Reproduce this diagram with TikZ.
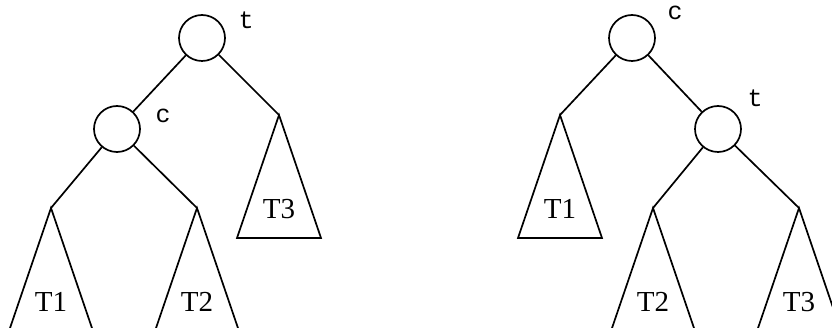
\documentclass[tikz,border=0pt]{standalone}
\usepackage{fontspec}
\setmainfont{Liberation Serif}
\setmonofont{Liberation Mono}
\usetikzlibrary{calc}
\begin{document}
\begin{tikzpicture}[x=1pt,y=-1pt,line width=1.7pt,
  vtx/.style={circle,draw,minimum size=46pt,inner sep=0pt},
  tlab/.style={anchor=base,font=\fontsize{29}{29}\selectfont,inner sep=0pt},
  vlab/.style={anchor=base,font=\fontsize{25}{25}\selectfont\ttfamily,inner sep=0pt},
  subtree/.style={line join=miter}]
\useasboundingbox (0,0) rectangle (832,328);
\clip (0,0) rectangle (832,328);
\newcommand{\subtri}[3]{%
  \coordinate (#1) at (#2);
  \draw[subtree] ($(#1)+(-42,123)$) -- (#1) -- ($(#1)+(42,123)$) -- cycle;
  \node[tlab] (#1l) at ($(#1)+(0,104)$) {#3};}
% left tree
\node[vtx] (Lt) at (202,38) {};
\node[vlab] (Ltl) at (246,29) {t};
\node[vtx] (Lc) at (117,129) {};
\node[vlab] (Lcl) at (163,123) {c};
\subtri{LA}{51,208}{T1}
\subtri{LB}{197,208}{T2}
\subtri{LC}{279,115}{T3}
\draw (Lt) -- (Lc);
\draw (Lt) -- (LC);
\draw (Lc) -- (LA);
\draw (Lc) -- (LB);
% right tree
\node[vtx] (Rc) at (632,38) {};
\node[vlab] (Rcl) at (675,20) {c};
\node[vtx] (Rt) at (718,129) {};
\node[vlab] (Rtl) at (755,107) {t};
\subtri{RA}{560,115}{T1}
\subtri{RB}{653,208}{T2}
\subtri{RC}{799,208}{T3}
\draw (Rc) -- (RA);
\draw (Rc) -- (Rt);
\draw (Rt) -- (RB);
\draw (Rt) -- (RC);
\end{tikzpicture}
\end{document}
